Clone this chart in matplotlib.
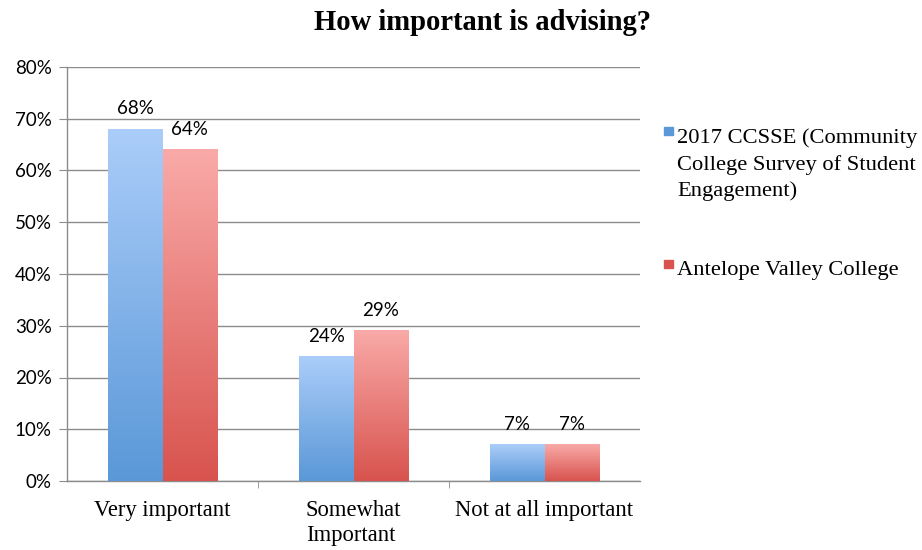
import numpy as np
import matplotlib.pyplot as plt
from matplotlib.colors import LinearSegmentedColormap
from matplotlib.patches import Rectangle

categories = ["Very important", "Somewhat\nImportant", "Not at all important"]
series_names = ["2017 CCSSE (Community\nCollege Survey of Student\nEngagement)",
                "Antelope Valley College"]
ccsse = [68, 24, 7]
avc = [64, 29, 7]

# top / bottom colours of each bar gradient
grad_colors = [("#abcdf9", "#5a98d8"), ("#f9aaa8", "#d8534e")]

serif = "Liberation Serif"
sans = "Lato"

fig = plt.figure(figsize=(9.22, 5.5), dpi=100)
ax = fig.add_axes([67 / 922, 69 / 550, (640 - 67) / 922, (481 - 67) / 550])

x = np.arange(len(categories))
width = 0.285
grad = np.linspace(0, 1, 256).reshape(-1, 1)

for i, (vals, (top, bot)) in enumerate(zip([ccsse, avc], grad_colors)):
    cmap = LinearSegmentedColormap.from_list(f"g{i}", [top, bot])
    offs = -width / 2 if i == 0 else width / 2
    bars = ax.bar(x + offs, vals, width, color="none", edgecolor="none", zorder=3)
    for b, v in zip(bars, vals):
        x0, w = b.get_x(), b.get_width()
        ax.imshow(grad, cmap=cmap, extent=(x0, x0 + w, 0, v), aspect="auto",
                  origin="upper", zorder=3)
        ax.text(x0 + w / 2, v + 2.3, f"{v}%", ha="center", va="bottom",
                fontsize=13.5, family=sans, zorder=4)

ax.set_xlim(-0.5, len(categories) - 0.5)
ax.set_ylim(0, 80)
ax.set_yticks(range(0, 81, 10))
ax.set_yticklabels([f"{t}%" for t in range(0, 81, 10)], family=sans, fontsize=13.5)
ax.set_xticks(x)
ax.set_xticklabels(categories, family=serif, fontsize=16.3, linespacing=1.24)
for lbl in ax.get_xticklabels():
    lbl.set_multialignment("left")
ax.set_xticks(np.arange(0.5, len(categories) - 0.5), minor=True)
ax.tick_params(axis="x", which="major", length=0, pad=14)
ax.tick_params(axis="x", which="minor", length=5, color="#8c8c8c", direction="out")
ax.tick_params(axis="y", length=6, color="#8c8c8c", direction="out", pad=5)

ax.grid(axis="y", color="#8c8c8c", linewidth=1, zorder=0)
for s in ["top", "right"]:
    ax.spines[s].set_visible(False)
for s in ["left", "bottom"]:
    ax.spines[s].set_color("#8c8c8c")
    ax.spines[s].set_linewidth(1)

fig.text(482 / 922, 1 - 22 / 550, "How important is advising?", ha="center",
         va="center", fontsize=20.6, fontweight="bold", family=serif)

# legend drawn by hand so the marker sits on the first line of a wrapped label
leg_y = [1 - 128 / 550, 1 - 261 / 550]
for name, (top, bot), y in zip(series_names, grad_colors, leg_y):
    fig.patches.append(Rectangle((664 / 922, y - 7 / 550), 9 / 922, 8 / 550,
                                 transform=fig.transFigure, color=bot,
                                 figure=fig))
    fig.text(677 / 922, y, name, ha="left", va="top", fontsize=16.2,
             family=serif, linespacing=1.47)

fig.savefig("out.png", dpi=100)
